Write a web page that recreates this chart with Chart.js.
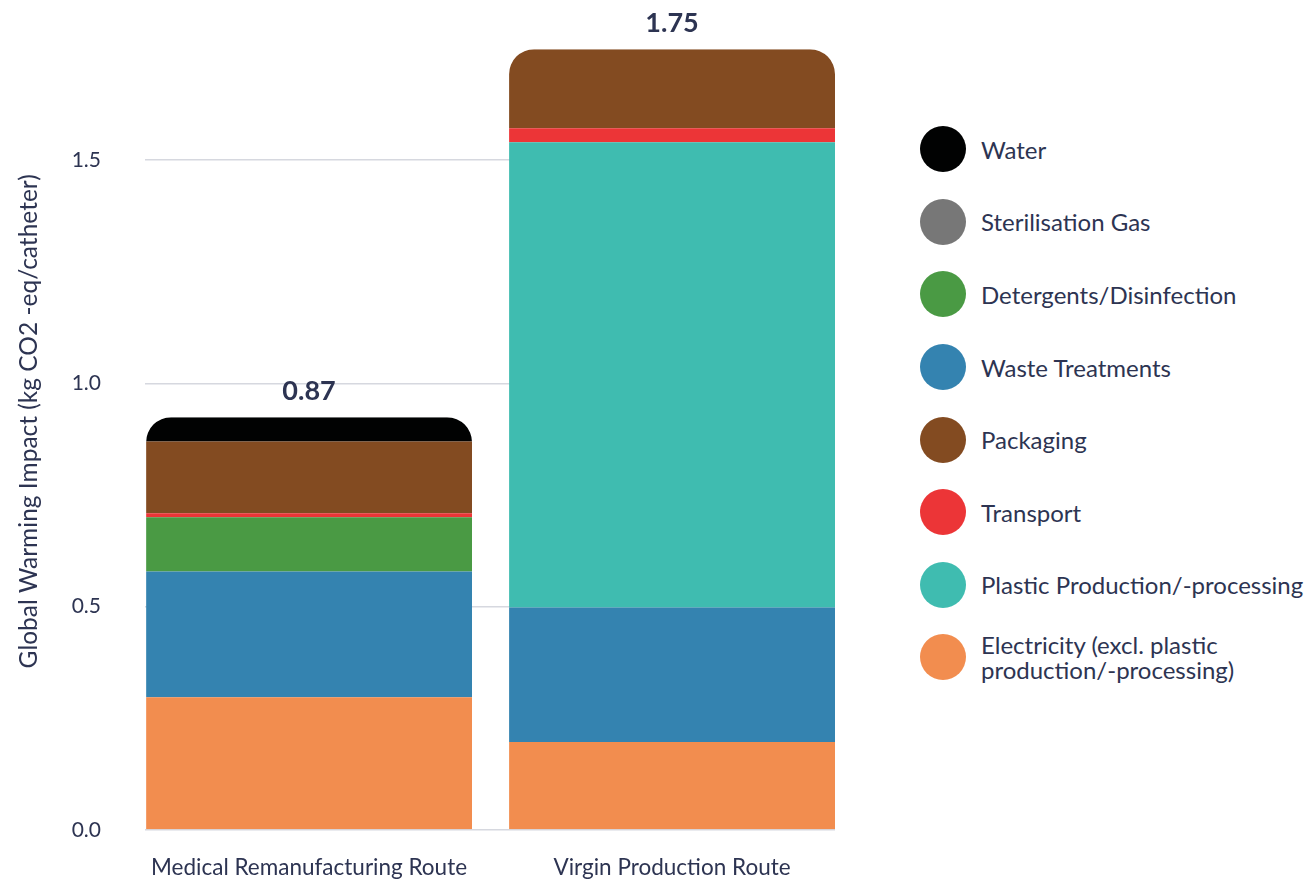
<!DOCTYPE html>
<html>
<head>
<meta charset="utf-8">
<script src="https://cdn.jsdelivr.net/npm/chart.js@4"></script>
<style>
  body { margin: 0; background: #fff; font-family: Lato, sans-serif; }
  #wrap { position: relative; width: 1309px; height: 881px; overflow: hidden; }
  #chartBox { position: absolute; left: 0; top: 0; width: 835px; height: 881px; }
  #legend { position: absolute; left: 920px; top: 113px; }
  .item { display: flex; align-items: center; height: 72.6px; }
  .dot { width: 46px; height: 46px; border-radius: 50%; margin-right: 15px; flex: none; }
  .txt { font-size: 24px; line-height: 25px; color: #2d3452; white-space: pre-line; }
</style>
</head>
<body>
<div id="wrap">
  <div id="chartBox"><canvas id="gwi"></canvas></div>
  <div id="legend"></div>
</div>
<script>
const routes = ["Medical Remanufacturing Route", "Virgin Production Route"];
const totals = ["0.87", "1.75"];
const yTicks = [0, 0.5, 1.0, 1.5];

// kg CO2-eq per catheter, one value per route (stacked bottom -> top)
const electricity = [0.297, 0.197];
const wasteTreatments = [0.282, 0.301];
const plasticProduction = [0, 1.042];
const detergents = [0.121, 0];
const transport = [0.009, 0.031];
const packaging = [0.161, 0.177];
const sterilisationGas = [0, 0];
const water = [0.054, 0];

const series = [
  { name: "Electricity (excl. plastic\nproduction/-processing)", values: electricity, color: "#f28d4f" },
  { name: "Waste Treatments", values: wasteTreatments, color: "#3483b0" },
  { name: "Plastic Production/-processing", values: plasticProduction, color: "#3fbcb0" },
  { name: "Detergents/Disinfection", values: detergents, color: "#4a9a44" },
  { name: "Transport", values: transport, color: "#ec3537" },
  { name: "Packaging", values: packaging, color: "#834b21" },
  { name: "Sterilisation Gas", values: sterilisationGas, color: "#777777" },
  { name: "Water", values: water, color: "#010202" }
];

const legendOrder = ["Water", "Sterilisation Gas", "Detergents/Disinfection", "Waste Treatments",
  "Packaging", "Transport", "Plastic Production/-processing", "Electricity (excl. plastic\nproduction/-processing)"];

const navy = "#2d3452";
Chart.defaults.font.family = "Lato";
Chart.defaults.color = navy;

// outline of each whole stack, taken from the bar elements
function routeBoxes(chart) {
  return routes.map((r, i) => {
    let box = null;
    chart.data.datasets.forEach((ds, d) => {
      const bar = chart.getDatasetMeta(d).data[i];
      if (!bar || !ds.data[i].y) return;
      const top = Math.min(bar.y, bar.base);
      const bottom = Math.max(bar.y, bar.base);
      if (!box) box = { left: bar.x - bar.width / 2, width: bar.width, top: top, bottom: bottom };
      box.top = Math.min(box.top, top);
      box.bottom = Math.max(box.bottom, bottom);
    });
    return box;
  });
}

// round the top of every stack and write its total above it
const stackShape = {
  id: "stackShape",
  beforeDatasetsDraw(chart) {
    const c = chart.ctx;
    c.save();
    c.beginPath();
    routeBoxes(chart).forEach(b => c.roundRect(b.left, b.top, b.width, b.bottom - b.top, [25, 25, 0, 0]));
    c.clip();
  },
  afterDatasetsDraw(chart) {
    const c = chart.ctx;
    c.restore();
    c.save();
    c.font = "bold 27px Lato";
    c.fillStyle = navy;
    c.textAlign = "center";
    c.textBaseline = "middle";
    routeBoxes(chart).forEach((b, i) => c.fillText(totals[i], b.left + b.width / 2, b.top - 26));
    c.restore();
  }
};

const ctx = document.getElementById("gwi").getContext("2d");
const gwiChart = new Chart(ctx, {
  type: "bar",
  data: {
    datasets: series.map(s => ({
      label: s.name,
      data: s.values.map((v, i) => ({ x: i, y: v })),
      backgroundColor: s.color,
      borderWidth: 0,
      barPercentage: 0.898,
      categoryPercentage: 1
    }))
  },
  plugins: [stackShape],
  options: {
    responsive: true,
    maintainAspectRatio: false,
    animation: false,
    layout: { padding: { top: 12, right: 0, bottom: 0, left: 0 } },
    plugins: { legend: { display: false }, tooltip: { enabled: false } },
    scales: {
      x: {
        type: "linear",
        offset: false,
        stacked: true,
        min: -0.452,
        max: 1.449,
        grid: { display: false },
        border: { display: false },
        afterBuildTicks: axis => { axis.ticks = routes.map((r, i) => ({ value: i })); },
        afterFit: axis => { axis.height = 51; },
        ticks: { callback: v => routes[v], padding: 16, font: { size: 22.5 }, maxRotation: 0, autoSkip: false }
      },
      y: {
        stacked: true,
        min: 0,
        max: 1.83,
        afterBuildTicks: axis => { axis.ticks = yTicks.map(v => ({ value: v })); },
        afterFit: axis => { axis.width = 145; },
        grid: { color: "#d6d8df", lineWidth: 1.5, drawTicks: true, tickLength: 44, tickColor: "rgba(0,0,0,0)" },
        border: { display: false },
        ticks: { padding: 0, font: { size: 21 }, callback: v => v.toFixed(1) },
        title: {
          display: true,
          text: "Global Warming Impact (kg CO2 -eq/catheter)",
          font: { size: 24.5 },
          padding: { top: 14, bottom: 0 }
        }
      }
    }
  }
});

// legend on the right, built from the chart's datasets
const legendEl = document.getElementById("legend");
legendOrder.forEach(name => {
  const ds = gwiChart.data.datasets.find(d => d.label === name);
  const item = document.createElement("div");
  item.className = "item";
  item.innerHTML = '<span class="dot" style="background:' + ds.backgroundColor + '"></span><span class="txt"></span>';
  item.querySelector(".txt").textContent = name;
  legendEl.appendChild(item);
});
</script>
</body>
</html>
